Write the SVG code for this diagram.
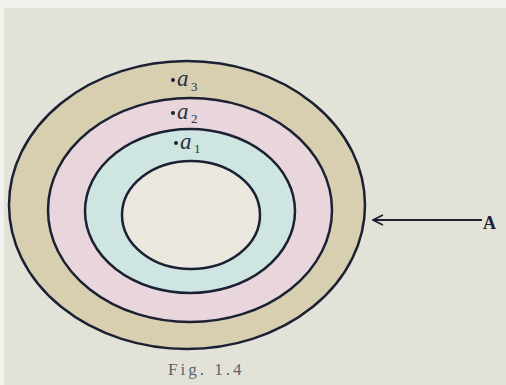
<svg xmlns="http://www.w3.org/2000/svg" width="506" height="385" viewBox="0 0 506 385">
  <defs>
    <style>
      .ring { stroke: #1b2133; stroke-width: 2.5; }
      .lbl { font-family: "Liberation Serif", "Times New Roman", serif; font-style: italic; font-size: 23px; fill: #2a2f40; }
      .sub { font-family: "Liberation Serif", "Times New Roman", serif; font-size: 13px; fill: #2a2f40; }
      .dot { fill: #1b2133; }
    </style>
    <marker id="arr" viewBox="0 0 12 12" refX="11" refY="6" markerWidth="12" markerHeight="12" markerUnits="userSpaceOnUse" orient="auto">
      <path d="M1,1 L11,6 L1,11" fill="none" stroke="#1b2133" stroke-width="1.6"/>
    </marker>
  </defs>
  <rect x="0" y="0" width="506" height="385" fill="#e2e2d8"/>
  <rect x="0" y="0" width="506" height="8" fill="#f0f0ec"/>
  <rect x="0" y="0" width="4" height="385" fill="#f0f0ec"/>
  <g id="ring3">
    <ellipse class="ring" cx="187" cy="205" rx="178" ry="144" fill="#d8cfb0"/>
  </g>
  <g id="ring2">
    <ellipse class="ring" cx="190" cy="210" rx="142" ry="112" fill="#e9d6dd"/>
  </g>
  <g id="ring1">
    <ellipse class="ring" cx="190" cy="211" rx="105" ry="82" fill="#cfe5e2"/>
  </g>
  <g id="core">
    <ellipse class="ring" cx="191" cy="215" rx="69" ry="54" fill="#eae7df"/>
  </g>
  <g id="label-a3">
    <circle class="dot" cx="173" cy="80" r="2"/>
    <text class="lbl" x="177" y="86">a</text>
    <text class="sub" x="191" y="91">3</text>
  </g>
  <g id="label-a2">
    <circle class="dot" cx="173" cy="113" r="2"/>
    <text class="lbl" x="177" y="119">a</text>
    <text class="sub" x="191" y="123">2</text>
  </g>
  <g id="label-a1">
    <circle class="dot" cx="176" cy="143" r="2"/>
    <text class="lbl" x="180" y="149">a</text>
    <text class="sub" x="194" y="153">1</text>
  </g>
  <g id="connectors">
    <line x1="482" y1="220" x2="373" y2="220" stroke="#1b2133" stroke-width="1.8" marker-end="url(#arr)"/>
  </g>
  <g id="label-A">
    <text x="483" y="229" font-family="Liberation Serif, serif" font-weight="bold" font-size="18" fill="#1b2133">A</text>
  </g>
  <g id="caption">
    <text x="168" y="375" font-family="Liberation Serif, serif" font-size="17" fill="#5c6272" letter-spacing="3">Fig. 1.4</text>
  </g>
</svg>
